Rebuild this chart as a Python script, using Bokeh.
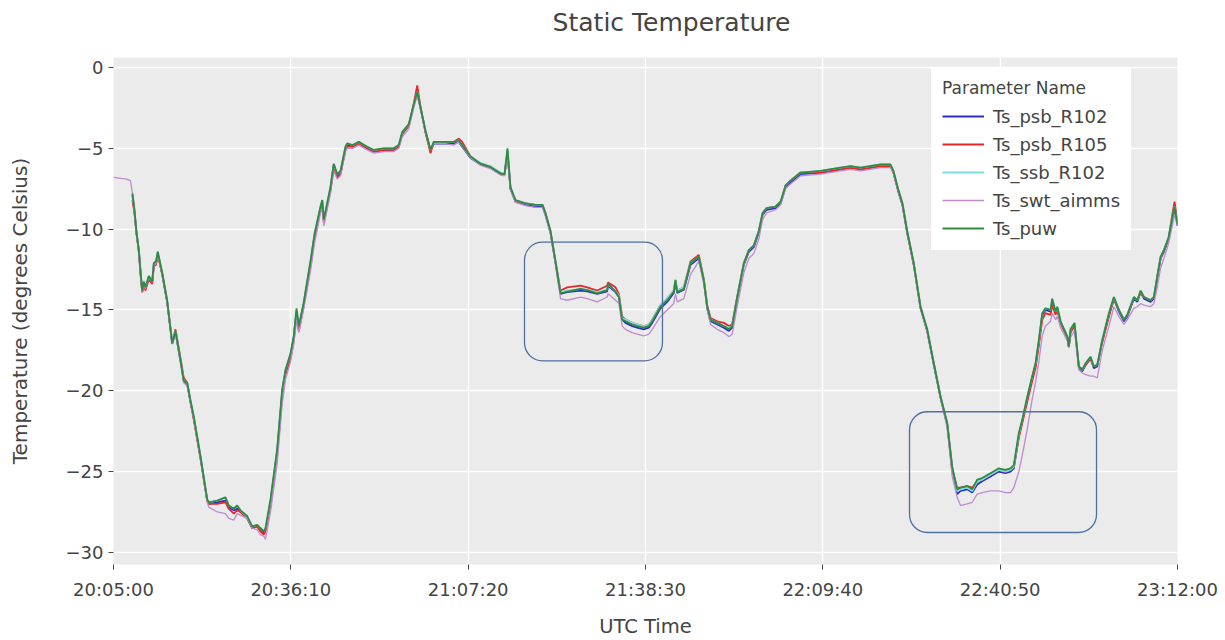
import numpy as np
import pandas as pd
from bokeh.plotting import figure
from bokeh.models import (Range1d, FixedTicker, DatetimeTickFormatter, Legend, LegendItem,
                          BoxAnnotation, Label)
from bokeh.embed import file_html
from bokeh.resources import INLINE

NAN = float("nan")
DAY = "2022-01-01 "

TIME = [
    "20:05:00", "20:07:17", "20:07:59", "20:08:20", "20:08:41", "20:09:03", "20:09:27", "20:09:45", "20:10:03",
    "20:10:20", "20:10:37", "20:11:12", "20:11:48", "20:12:05", "20:12:28", "20:12:47", "20:13:34",
    "20:14:26", "20:15:19", "20:15:54", "20:16:47", "20:17:21", "20:17:57", "20:18:32", "20:19:07", "20:20:17",
    "20:21:28", "20:21:45", "20:23:14", "20:24:41", "20:25:16", "20:26:09", "20:26:44", "20:27:19", "20:28:30",
    "20:29:23", "20:30:15", "20:30:50", "20:31:25", "20:31:43",
    "20:32:36", "20:33:46", "20:34:39", "20:35:14", "20:36:07", "20:36:41", "20:37:10", "20:37:34",
    "20:38:24", "20:39:37", "20:40:20", "20:41:23", "20:41:41", "20:41:58", "20:42:26", "20:43:08", "20:43:43",
    "20:44:19", "20:44:54",
    "20:45:46", "20:46:04", "20:47:00", "20:48:07", "20:49:35", "20:50:45", "20:52:30", "20:54:16", "20:55:08",
    "20:55:44", "20:56:54", "20:57:47", "20:58:23", "20:58:57", "20:59:50", "21:00:43", "21:01:18", "21:03:03",
    "21:04:48", "21:05:41", "21:06:17",
    "21:07:45", "21:09:30", "21:11:15", "21:13:01", "21:13:43", "21:14:15", "21:14:46", "21:15:39", "21:17:25",
    "21:19:10", "21:20:24",
    "21:20:55", "21:21:48", "21:22:41", "21:23:34",
    "21:24:44", "21:27:05", "21:28:15", "21:30:01", "21:31:46", "21:31:55", "21:33:14", "21:33:49",
    "21:34:24", "21:34:59", "21:36:10", "21:37:02", "21:38:12", "21:39:05", "21:39:41", "21:41:08", "21:42:19",
    "21:43:28", "21:43:46", "21:44:04", "21:45:14", "21:46:25", "21:47:52",
    "21:48:45", "21:49:21", "21:49:56", "21:51:06", "21:52:16", "21:53:09", "21:53:44",
    "21:54:37", "21:55:47", "21:56:40", "21:57:33", "21:58:26", "21:59:05", "21:59:48",
    "22:01:22", "22:02:15", "22:03:07", "22:04:00", "22:05:45", "22:09:16", "22:12:46", "22:14:32", "22:16:17",
    "22:19:48", "22:21:33",
    "22:22:05", "22:22:58", "22:23:40", "22:24:29", "22:25:39", "22:26:50", "22:28:01", "22:29:10", "22:30:21",
    "22:31:32", "22:32:24", "22:33:17",
    "22:33:52", "22:35:02", "22:35:55", "22:36:48", "22:37:40", "22:39:08", "22:40:36", "22:41:46", "22:42:39",
    "22:43:14",
    "22:44:07", "22:44:43", "22:45:35", "22:46:28", "22:47:03", "22:47:38", "22:48:14",
    "22:48:48", "22:49:41", "22:49:59", "22:50:34", "22:50:52", "22:51:27", "22:52:38", "22:52:54", "22:53:12",
    "22:53:54",
    "22:54:40", "22:55:16", "22:55:51", "22:56:43", "22:57:18", "22:57:54",
    "22:58:47", "22:59:57", "23:00:49", "23:01:42", "23:02:35", "23:03:11", "23:04:20", "23:04:56", "23:05:31",
    "23:06:06", "23:07:16", "23:07:51",
    "23:08:27", "23:09:02", "23:09:37", "23:10:26", "23:11:08", "23:11:29", "23:12:00",
]

TS_PSB_R102 = [
    NAN, NAN, NAN, -7.9, -8.9, -10.3, -11.3, -12.7, -13.9,
    -13.3, -13.7, -13.0, -13.3, -12.2, -12.1, -11.5, -12.8,
    -14.5, -17.1, -16.4, -18.2, -19.4, -19.6, -20.7, -21.7, -24.1,
    -26.8, -27.0, -26.9, -26.8, -27.2, -27.4, -27.3, -27.5, -27.9, -28.5, -28.4, -28.6, -28.8, -28.6,
    -26.9, -23.8, -20.1, -18.8, -17.8, -16.7, -15.1, -16.1,
    -14.7, -12.1, -10.4, -8.7, -8.3, -9.5, -8.7, -7.5, -6.0, -6.7, -6.5,
    -5.0, -4.8, -4.9, -4.7, -5.0, -5.2, -5.1, -5.1, -4.9,
    -4.1, -3.6, -2.3, -1.6, -2.5, -4.0, -5.1, -4.7, -4.7, -4.7, -4.6, -4.9,
    -5.6, -6.0, -6.2, -6.6, -6.65, -5.2, -7.5, -8.3, -8.5, -8.6, -8.6,
    -9.1, -10.2, -12.1, -14.0,
    -13.9, -13.8, -13.85, -14.0, -13.85, -13.5, -13.9, -14.2,
    -15.6, -15.8, -16.0, -16.1, -16.2, -16.1, -15.8, -14.9, -14.5,
    -13.95, -13.3, -13.95, -13.75, -12.2, -11.8,
    -13.2, -14.9, -15.7, -15.9, -16.1, -16.3, -16.1,
    -14.3, -12.2, -11.4, -11.1, -10.2, -9.1, -8.8,
    -8.7, -8.4, -7.4, -7.1, -6.6, -6.5, -6.3, -6.2, -6.3, -6.1, -6.1,
    -6.5, -7.7, -8.5, -10.2, -12.2, -14.9, -16.3, -18.4, -20.4, -22.1, -24.8, -26.4,
    -26.2, -26.1, -26.3, -25.8, -25.6, -25.3, -25.0, -25.1, -25.0, -24.8,
    -22.8, -21.9, -20.5, -19.2, -18.4, -17.0, -15.3,
    -15.0, -15.1, -14.5, -15.2, -14.9, -15.8, -16.7, -17.3, -16.3, -15.9,
    -18.6, -18.8, -18.4, -18.0, -18.6, -18.5,
    -16.9, -15.3, -14.3, -15.1, -15.7, -15.4, -14.3, -14.5, -13.9, -14.3, -14.5, -14.3,
    -13.0, -11.8, -11.4, -10.6, -9.3, -8.7, -9.8,
]

TS_PSB_R105 = [
    NAN, NAN, NAN, -8.2, -9.0, -10.3, -11.4, -12.8, -13.9,
    -13.4, -13.8, -13.1, -13.4, -12.3, -12.2, -11.6, -12.8,
    -14.5, -17.0, -16.2, -18.0, -19.2, -19.5, -20.7, -21.8, -24.2,
    -26.8, -27.0, -27.0, -26.9, -27.3, -27.6, -27.4, -27.5, -27.9, -28.5, -28.4, -28.7, -28.9, -28.7,
    -27.0, -24.0, -20.3, -19.0, -18.0, -16.9, -15.3, -16.3,
    -14.8, -12.3, -10.5, -8.8, -8.4, -9.6, -8.8, -7.6, -6.1, -6.8, -6.6,
    -5.1, -4.9, -4.9, -4.7, -5.0, -5.2, -5.1, -5.1, -4.9,
    -4.1, -3.6, -2.2, -1.1, -2.4, -4.0, -5.3, -4.6, -4.6, -4.6, -4.4, -4.6,
    -5.5, -5.95, -6.2, -6.6, -6.6, -5.4, -7.5, -8.3, -8.4, -8.5, -8.5,
    -9.0, -10.2, -12.0, -13.8,
    -13.6, -13.5, -13.6, -13.8, -13.5, -13.3, -13.6, -14.0,
    -15.4, -15.6, -15.8, -15.9, -16.0, -15.9, -15.6, -14.7, -14.3,
    -13.8, -13.2, -13.8, -13.6, -12.0, -11.6,
    -13.1, -14.7, -15.5, -15.7, -15.8, -16.0, -15.9,
    -14.2, -12.1, -11.3, -11.0, -10.1, -9.0, -8.7,
    -8.6, -8.3, -7.3, -7.0, -6.5, -6.5, -6.3, -6.2, -6.3, -6.1, -6.1,
    -6.5, -7.7, -8.5, -10.2, -12.2, -14.8, -16.3, -18.3, -20.4, -22.1, -24.9, -26.0,
    -26.0, -25.9, -26.0, -25.6, -25.5, -25.2, -24.9, -25.0, -24.9, -24.7,
    -22.9, -22.0, -20.7, -19.4, -18.6, -17.2, -15.6,
    -15.2, -15.3, -14.7, -15.3, -15.0, -15.8, -16.7, -17.3, -16.4, -16.0,
    -18.5, -18.7, -18.4, -18.0, -18.5, -18.4,
    -17.0, -15.4, -14.3, -15.0, -15.6, -15.3, -14.3, -14.4, -13.9, -14.2, -14.4, -14.2,
    -13.0, -11.8, -11.3, -10.6, -9.0, -8.3, -9.6,
]

TS_SSB_R102 = [
    NAN, NAN, NAN, -7.8, -8.8, -10.2, -11.3, -12.6, -13.8,
    -13.2, -13.6, -12.9, -13.2, -12.1, -12.0, -11.4, -12.7,
    -14.4, -17.0, -16.3, -18.1, -19.4, -19.5, -20.6, -21.6, -24.0,
    -26.7, -26.9, -26.8, -26.6, -27.1, -27.3, -27.1, -27.4, -27.8, -28.4, -28.3, -28.5, -28.7, -28.5,
    -26.8, -23.7, -20.0, -18.7, -17.7, -16.6, -15.0, -16.0,
    -14.6, -12.0, -10.3, -8.6, -8.2, -9.4, -8.6, -7.4, -6.0, -6.6, -6.4,
    -4.9, -4.7, -4.8, -4.6, -4.9, -5.1, -5.0, -5.0, -4.8,
    -4.0, -3.5, -2.3, -1.5, -2.5, -3.9, -5.1, -4.6, -4.6, -4.6, -4.5, -4.8,
    -5.5, -5.9, -6.1, -6.5, -6.6, -5.1, -7.4, -8.2, -8.4, -8.5, -8.5,
    -9.0, -10.1, -12.0, -13.9,
    -13.8, -13.7, -13.75, -13.9, -13.75, -13.4, -13.85, -14.1,
    -15.5, -15.6, -15.8, -15.9, -16.0, -15.9, -15.6, -14.7, -14.3,
    -13.8, -13.1, -13.8, -13.6, -12.1, -11.7,
    -13.1, -14.8, -15.6, -15.8, -16.0, -16.1, -16.0,
    -14.2, -12.1, -11.3, -11.0, -10.1, -9.0, -8.7,
    -8.6, -8.3, -7.3, -7.0, -6.5, -6.4, -6.2, -6.1, -6.2, -6.0, -6.0,
    -6.4, -7.6, -8.4, -10.1, -12.1, -14.8, -16.2, -18.3, -20.3, -22.0, -24.7, -26.2,
    -26.1, -26.0, -26.2, -25.6, -25.5, -25.2, -24.9, -25.0, -24.9, -24.7,
    -22.7, -21.8, -20.4, -19.1, -18.3, -16.9, -15.2,
    -14.9, -15.0, -14.3, -15.1, -14.8, -15.7, -16.6, -17.2, -16.2, -15.8,
    -18.5, -18.7, -18.3, -17.9, -18.5, -18.4,
    -16.8, -15.2, -14.2, -15.0, -15.6, -15.3, -14.2, -14.4, -13.8, -14.2, -14.4, -14.2,
    -12.9, -11.7, -11.3, -10.5, -9.2, -8.6, -9.7,
]

TS_SWT_AIMMS = [
    -6.8, -6.9, -7.0, -7.8, -8.9, -10.3, -11.4, -12.7, -13.9,
    -13.4, -13.7, -13.0, -13.3, -12.3, -12.1, -11.6, -12.8,
    -14.5, -17.1, -16.5, -18.2, -19.5, -19.7, -20.7, -21.8, -24.2,
    -26.9, -27.2, -27.5, -27.6, -27.9, -28.0, -27.6, -27.7, -27.9, -28.5, -28.6, -28.9, -29.0, -29.2,
    -27.5, -24.5, -20.8, -19.3, -18.2, -17.1, -15.6, -16.4,
    -15.0, -12.6, -10.9, -9.0, -8.7, -9.8, -9.0, -7.8, -6.4, -6.9, -6.7,
    -5.2, -5.0, -5.0, -4.8, -5.1, -5.3, -5.2, -5.2, -5.0,
    -4.3, -3.8, -2.5, -1.7, -2.6, -4.0, -5.0, -4.7, -4.7, -4.8, -4.6, -4.9,
    -5.6, -6.05, -6.25, -6.65, -6.7, -5.4, -7.6, -8.35, -8.55, -8.65, -8.65,
    -9.2, -10.3, -12.2, -14.3,
    -14.4, -14.2, -14.3, -14.5, -14.2, -14.0, -14.4, -14.6,
    -16.0, -16.2, -16.4, -16.5, -16.6, -16.5, -16.2, -15.4, -15.0,
    -14.6, -14.0, -14.5, -14.3, -12.8, -12.0,
    -13.4, -15.0, -15.9, -16.2, -16.4, -16.65, -16.5,
    -14.8, -12.7, -11.8, -11.5, -10.6, -9.4, -9.0,
    -8.8, -8.5, -7.5, -7.2, -6.7, -6.6, -6.4, -6.3, -6.4, -6.2, -6.2,
    -6.5, -7.7, -8.5, -10.2, -12.2, -14.9, -16.3, -18.4, -20.5, -22.3, -25.3, -26.6,
    -27.1, -27.0, -26.9, -26.4, -26.3, -26.2, -26.2, -26.3, -26.3, -26.0,
    -25.0, -24.0, -22.4, -20.5, -19.5, -18.2, -16.6,
    -16.0, -15.7, -15.2, -15.6, -15.4, -16.1, -16.9, -17.3, -16.7, -16.3,
    -18.7, -18.9, -19.0, -19.1, -19.1, -19.2,
    -17.5, -16.0, -14.8, -15.4, -15.9, -15.6, -14.9, -14.8, -14.6, -14.7, -14.8, -14.6,
    -13.6, -12.4, -11.8, -10.9, -9.7, -9.1, -9.8,
]

TS_PUW = [
    NAN, NAN, NAN, -7.8, -8.8, -10.2, -11.3, -12.6, -13.8,
    -13.25, -13.6, -12.9, -13.25, -12.1, -12.0, -11.4, -12.7,
    -14.4, -17.05, -16.3, -18.1, -19.4, -19.5, -20.6, -21.6, -24.05,
    -26.7, -26.9, -26.8, -26.6, -27.1, -27.3, -27.1, -27.4, -27.75, -28.4, -28.3, -28.5, -28.7, -28.5,
    -26.7, -23.6, -19.9, -18.7, -17.7, -16.6, -14.9, -16.0,
    -14.6, -12.0, -10.3, -8.6, -8.2, -9.4, -8.6, -7.4, -5.95, -6.6, -6.4,
    -4.9, -4.7, -4.8, -4.6, -4.9, -5.1, -5.0, -5.0, -4.8,
    -4.0, -3.5, -2.25, -1.5, -2.45, -3.9, -5.1, -4.6, -4.6, -4.6, -4.5, -4.8,
    -5.5, -5.95, -6.15, -6.55, -6.6, -5.0, -7.4, -8.2, -8.4, -8.5, -8.5,
    -9.0, -10.1, -12.0, -13.97,
    -13.87, -13.7, -13.77, -13.97, -13.77, -13.36, -13.87, -14.18,
    -15.6, -15.7, -15.9, -16.0, -16.1, -16.0, -15.7, -14.8, -14.4,
    -13.87, -13.15, -13.9, -13.7, -12.1, -11.7,
    -13.15, -14.8, -15.6, -15.8, -16.0, -16.2, -16.0,
    -14.2, -12.1, -11.3, -11.0, -10.1, -9.0, -8.7,
    -8.6, -8.3, -7.3, -7.0, -6.5, -6.4, -6.2, -6.1, -6.2, -6.0, -6.0,
    -6.4, -7.6, -8.4, -10.1, -12.1, -14.8, -16.2, -18.3, -20.35, -22.0, -24.7, -26.1,
    -26.0, -25.9, -26.1, -25.5, -25.4, -25.1, -24.8, -24.9, -24.8, -24.6,
    -22.6, -21.8, -20.4, -19.1, -18.3, -16.85, -15.2,
    -14.9, -15.0, -14.3, -15.1, -14.8, -15.7, -16.65, -17.25, -16.2, -15.8,
    -18.5, -18.7, -18.3, -17.9, -18.5, -18.4,
    -16.85, -15.2, -14.2, -15.0, -15.6, -15.3, -14.2, -14.4, -13.8, -14.2, -14.4, -14.2,
    -12.9, -11.7, -11.3, -10.5, -9.2, -8.6, -9.7,
]

SERIES_NAMES = ["Ts_psb_R102", "Ts_psb_R105", "Ts_ssb_R102", "Ts_swt_aimms", "Ts_puw"]
SERIES_VALUES = [TS_PSB_R102, TS_PSB_R105, TS_SSB_R102, TS_SWT_AIMMS, TS_PUW]
SERIES_COLORS = ["#2b2bd0", "#e8262a", "#7fdedb", "#bf8ad0", "#2e8b40"]

TITLE = "Static Temperature"
X_LABEL = "UTC Time"
Y_LABEL = "Temperature (degrees Celsius)"
LEGEND_TITLE = "Parameter Name"

X_START, X_END = "20:05:00", "23:12:00"
X_TICKS = ["20:05:00", "20:36:10", "21:07:20", "21:38:30", "22:09:40", "22:40:50", "23:12:00"]
Y_TICKS = [0, -5, -10, -15, -20, -25, -30]
Y_TICK_LABELS = ["0", "\u22125", "\u221210", "\u221215", "\u221220", "\u221225", "\u221230"]
Y_MIN, Y_MAX = -30.75, 0.62

HIGHLIGHTS = [("21:17:14", "21:41:29", -10.8, -18.15),
              ("22:24:54", "22:57:46", -21.3, -28.77)]

FONT = "DejaVu Sans"
TXT = "#444444"


def ms(t):
    return (pd.Timestamp(DAY + t) - pd.Timestamp("1970-01-01")).total_seconds() * 1000.0


x = np.array([ms(t) for t in TIME])

p = figure(width=1225, height=640, output_backend="svg", toolbar_location=None,
           x_axis_type="datetime",
           x_range=Range1d(ms(X_START), ms(X_END)), y_range=Range1d(Y_MIN, Y_MAX),
           min_border_left=113, min_border_right=48, min_border_top=57, min_border_bottom=75,
           background_fill_color="#ebebeb", border_fill_color="white", outline_line_color=None)

# chart title, placed in the panel above the frame (offsets in screen pixels)
p.add_layout(Label(x=558, y=35, x_units="screen", y_units="screen", text=TITLE,
                   text_align="center", text_baseline="middle",
                   text_font=FONT, text_font_size="25px", text_color=TXT), "above")

renderers = []
for name, vals, col in zip(SERIES_NAMES, SERIES_VALUES, SERIES_COLORS):
    lw = 1.3 if name == "Ts_swt_aimms" else 1.8
    r = p.line(x, np.array(vals, dtype=float), line_color=col, line_width=lw)
    renderers.append((name, r))

for (l, r, t, b) in HIGHLIGHTS:
    p.add_layout(BoxAnnotation(left=ms(l), right=ms(r), top=t, bottom=b,
                               fill_color=None, fill_alpha=0, line_color="#4f6f9f",
                               line_width=1.3, line_alpha=1.0, border_radius=18))

p.xaxis.ticker = FixedTicker(ticks=[ms(t) for t in X_TICKS])
fmt = "%H:%M:%S"
p.xaxis.formatter = DatetimeTickFormatter(seconds=fmt, minsec=fmt, minutes=fmt, hourmin=fmt,
                                          hours=fmt, days=fmt, context=None)
p.yaxis.ticker = FixedTicker(ticks=Y_TICKS)
p.yaxis.major_label_overrides = {v: s for v, s in zip(Y_TICKS, Y_TICK_LABELS)}

p.xaxis.axis_label = X_LABEL
p.yaxis.axis_label = Y_LABEL
for ax in (p.xaxis[0], p.yaxis[0]):
    ax.axis_line_color = None
    ax.major_tick_line_color = TXT
    ax.major_tick_out = 5
    ax.major_tick_in = 0
    ax.minor_tick_line_color = None
    ax.major_label_text_font = FONT
    ax.major_label_text_font_size = "18px"
    ax.major_label_text_color = TXT
    ax.axis_label_text_font = FONT
    ax.axis_label_text_font_style = "normal"
    ax.axis_label_text_color = TXT
p.xaxis.axis_label_text_font_size = "19.5px"
p.yaxis.axis_label_text_font_size = "20px"
p.xaxis.major_label_standoff = 9
p.xaxis.axis_label_standoff = 12
p.yaxis.major_label_standoff = 5
p.yaxis.axis_label_standoff = 31

p.grid.grid_line_color = "white"
p.grid.grid_line_width = 1.4

legend = Legend(items=[LegendItem(label=n, renderers=[r]) for n, r in renderers],
                title=LEGEND_TITLE, location=(818, 314),
                title_text_font=FONT, title_text_font_size="17px", title_text_font_style="normal",
                title_text_color=TXT, title_standoff=7,
                label_text_font=FONT, label_text_font_size="18px", label_text_color=TXT,
                glyph_width=42, glyph_height=22, label_height=22, label_standoff=9,
                spacing=6, padding=10, margin=0,
                background_fill_color="white", background_fill_alpha=1.0,
                border_line_color="white", border_line_alpha=1.0, border_line_width=1)
p.add_layout(legend)

open("out.html", "w").write(file_html(p, INLINE))
